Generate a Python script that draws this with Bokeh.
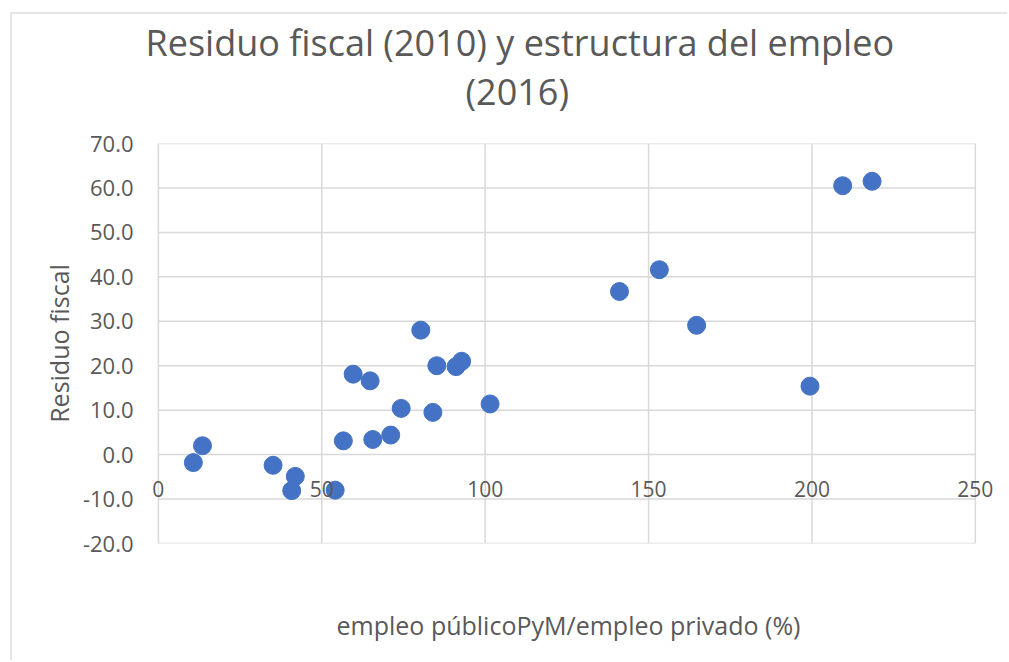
from bokeh.plotting import figure
from bokeh.models import (ColumnDataSource, LinearAxis, FixedTicker, NumeralTickFormatter,
                          Title, Range1d)
from bokeh.embed import file_html
from bokeh.resources import INLINE

# ---- data ----
empleo_ratio = [10.7, 13.5, 35.1, 41.9, 40.8, 54.1, 56.6, 59.6, 64.8, 65.6, 71.1, 74.3,
                80.3, 84.0, 85.2, 91.1, 92.8, 101.5, 141.1, 153.3, 164.7, 199.4, 209.4, 218.4]
residuo_fiscal = [-1.8, 2.0, -2.4, -4.9, -8.1, -8.0, 3.1, 18.1, 16.6, 3.4, 4.4, 10.4,
                  28.0, 9.5, 20.0, 19.8, 21.0, 11.4, 36.7, 41.6, 29.1, 15.4, 60.5, 61.5]
x_ticks = [0, 50, 100, 150, 200, 250]
y_ticks = [-20, -10, 0, 10, 20, 30, 40, 50, 60, 70]
title_lines = ["Residuo fiscal (2010) y estructura del empleo", "(2016)"]
x_title = "empleo públicoPyM/empleo privado (%)"
y_title = "Residuo fiscal"

FONT = "Open Sans"
TXT = "#595959"
GRID = "#d9d9d9"

x_lo, x_hi = x_ticks[0], x_ticks[-1]
y_lo, y_hi = y_ticks[0], y_ticks[-1]

# x range padded so the end tick labels (0, 250) are not clipped
p = figure(width=997, height=648, output_backend="svg", toolbar_location=None,
           x_range=Range1d(-7, 258), y_range=Range1d(y_lo, y_hi),
           x_axis_location=None, y_axis_location=None, title=None,
           min_border_left=123, min_border_right=8, min_border_top=129, min_border_bottom=119)
p.styles = {"margin-left": "10px", "margin-top": "12px",
            "border-left": "2px solid #e6e6e6", "border-top": "2px solid #e6e6e6"}
p.outline_line_color = None
p.background_fill_color = "white"
p.border_fill_color = "white"
p.xgrid.visible = False
p.ygrid.visible = False

# gridlines limited to the data area
p.segment(x0=x_ticks, y0=[y_lo] * len(x_ticks), x1=x_ticks, y1=[y_hi] * len(x_ticks),
          line_color=GRID, line_width=1.5)
p.segment(x0=[x_lo] * len(y_ticks), y0=y_ticks, x1=[x_hi] * len(y_ticks), y1=y_ticks,
          line_color=GRID, line_width=1.5)

# y axis (tick labels + title)
yaxis = LinearAxis(ticker=FixedTicker(ticks=y_ticks),
                   formatter=NumeralTickFormatter(format="0.0"))
yaxis.axis_line_color = None
yaxis.major_tick_line_color = None
yaxis.minor_tick_line_color = None
yaxis.major_label_standoff = -4
yaxis.major_label_text_font = FONT
yaxis.major_label_text_font_size = "22px"
yaxis.major_label_text_color = TXT
yaxis.axis_label = y_title
yaxis.axis_label_text_font = FONT
yaxis.axis_label_text_font_size = "25px"
yaxis.axis_label_text_font_style = "normal"
yaxis.axis_label_text_color = TXT
yaxis.axis_label_standoff = 4
p.add_layout(yaxis, "left")

# x axis whose labels sit along y = 0
xaxis = LinearAxis(ticker=FixedTicker(ticks=x_ticks), fixed_location=0)
xaxis.axis_line_color = None
xaxis.major_tick_line_color = None
xaxis.minor_tick_line_color = None
xaxis.major_label_standoff = 20
xaxis.major_label_text_font = FONT
xaxis.major_label_text_font_size = "21px"
xaxis.major_label_text_color = TXT
p.add_layout(xaxis, "below")

# x axis title
xtitle_axis = LinearAxis(ticker=FixedTicker(ticks=[]))
xtitle_axis.axis_line_color = None
xtitle_axis.major_tick_line_color = None
xtitle_axis.minor_tick_line_color = None
xtitle_axis.major_label_text_font_size = "0px"
xtitle_axis.axis_label = x_title
xtitle_axis.axis_label_text_font = FONT
xtitle_axis.axis_label_text_font_size = "25px"
xtitle_axis.axis_label_text_font_style = "normal"
xtitle_axis.axis_label_text_color = TXT
xtitle_axis.axis_label_standoff = 64
p.add_layout(xtitle_axis, "below")

src = ColumnDataSource(dict(x=empleo_ratio, y=residuo_fiscal))
p.scatter("x", "y", source=src, size=18, fill_color="#4472C4", line_color="#4472C4")

# two-line title (first added sits closest to the frame)
p.add_layout(Title(text=title_lines[1], align="left", offset=330, standoff=56,
                   text_font=FONT, text_font_size="36px", text_font_style="normal",
                   text_color=TXT), "above")
p.add_layout(Title(text=title_lines[0], align="left", offset=10, standoff=-60,
                   text_font=FONT, text_font_size="36px", text_font_style="normal",
                   text_color=TXT), "above")

open("out.html", "w").write(file_html(p, INLINE))
